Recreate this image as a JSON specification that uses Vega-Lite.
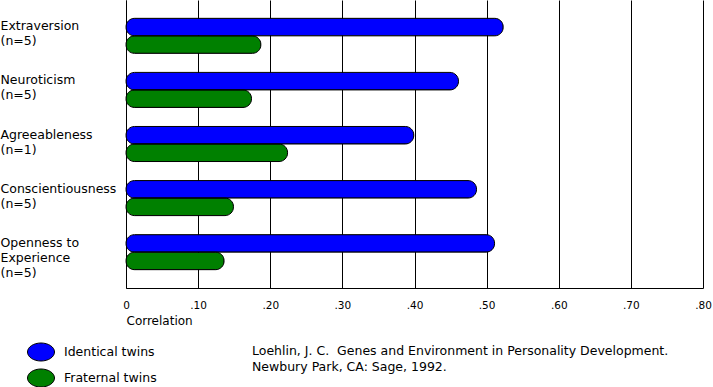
{
  "$schema": "https://vega.github.io/schema/vega-lite/v6.json",
  "width": 577,
  "height": 288,
  "autosize": {"type": "none"},
  "padding": {"left": 126, "top": 0, "right": 10, "bottom": 99},
  "background": "white",
  "config": {"view": {"stroke": null}, "font": "DejaVu Sans"},
  "title": {
    "text": ["Loehlin, J. C.\u00a0\u00a0Genes and Environment in Personality Development.", "Newbury Park, CA: Sage, 1992."],
    "orient": "bottom",
    "anchor": "start",
    "frame": "group",
    "dx": 126,
    "offset": -45,
    "fontSize": 12.5,
    "fontWeight": "normal",
    "color": "black",
    "lineHeight": 16,
    "baseline": "top"
  },
  "data": {
    "values": [
      {"trait": "Extraversion|(n=5)", "group": "Identical twins", "r": 0.523},
      {"trait": "Extraversion|(n=5)", "group": "Fraternal twins", "r": 0.187},
      {"trait": "Neuroticism|(n=5)", "group": "Identical twins", "r": 0.461},
      {"trait": "Neuroticism|(n=5)", "group": "Fraternal twins", "r": 0.174},
      {"trait": "Agreeableness|(n=1)", "group": "Identical twins", "r": 0.399},
      {"trait": "Agreeableness|(n=1)", "group": "Fraternal twins", "r": 0.224},
      {"trait": "Conscientiousness|(n=5)", "group": "Identical twins", "r": 0.486},
      {"trait": "Conscientiousness|(n=5)", "group": "Fraternal twins", "r": 0.149},
      {"trait": "Openness to|Experience|(n=5)", "group": "Identical twins", "r": 0.511},
      {"trait": "Openness to|Experience|(n=5)", "group": "Fraternal twins", "r": 0.136}
    ]
  },
  "mark": {"type": "bar", "cornerRadius": 8.5, "stroke": "#000000", "strokeWidth": 1},
  "encoding": {
    "y": {
      "field": "trait",
      "type": "nominal",
      "sort": null,
      "scale": {"paddingInner": 0.352, "paddingOuter": 0.339},
      "axis": {
        "title": null,
        "domain": true,
        "domainColor": "black",
        "ticks": false,
        "grid": false,
        "labelAlign": "left",
        "labelBaseline": "top",
        "labelPadding": 126,
        "labelOffset": -15.5,
        "labelFontSize": 12.5,
        "labelColor": "black",
        "labelLineHeight": 15,
        "labelLimit": 0,
        "labelExpr": "split(datum.label, '|')"
      }
    },
    "yOffset": {
      "field": "group",
      "sort": ["Identical twins", "Fraternal twins"],
      "scale": {"paddingInner": 0, "paddingOuter": 0}
    },
    "x": {
      "field": "r",
      "type": "quantitative",
      "scale": {"domain": [0, 0.8], "nice": false, "zero": true},
      "axis": {
        "values": [0, 0.1, 0.2, 0.3, 0.4, 0.5, 0.6, 0.7, 0.8],
        "grid": true,
        "gridColor": "black",
        "gridOpacity": 1,
        "gridWidth": 1,
        "domain": true,
        "domainColor": "black",
        "ticks": false,
        "labelExpr": "datum.value == 0 ? '0' : replace(format(datum.value, '.2f'), '0.', '.')",
        "labelFontSize": 10.5,
        "labelColor": "black",
        "labelPadding": 12,
        "labelFlush": false,
        "labelOverlap": false,
        "title": "Correlation",
        "titleAnchor": "start",
        "titleAlign": "left",
        "titleFontWeight": "normal",
        "titleFontSize": 12,
        "titleColor": "black",
        "titlePadding": 5
      }
    },
    "color": {
      "field": "group",
      "type": "nominal",
      "sort": ["Identical twins", "Fraternal twins"],
      "scale": {"domain": ["Identical twins", "Fraternal twins"], "range": ["#0000ff", "#008000"]},
      "legend": {
        "title": null,
        "orient": "none",
        "legendX": -99,
        "legendY": 338,
        "direction": "vertical",
        "padding": 0,
        "rowPadding": 0,
        "symbolType": "M-1,0A1,0.667,0,1,1,1,0A1,0.667,0,1,1,-1,0Z",
        "symbolSize": 729,
        "symbolStrokeColor": "black",
        "symbolStrokeWidth": 1,
        "symbolOpacity": 1,
        "labelFontSize": 12.5,
        "labelColor": "black",
        "labelOffset": 9
      }
    }
  }
}
